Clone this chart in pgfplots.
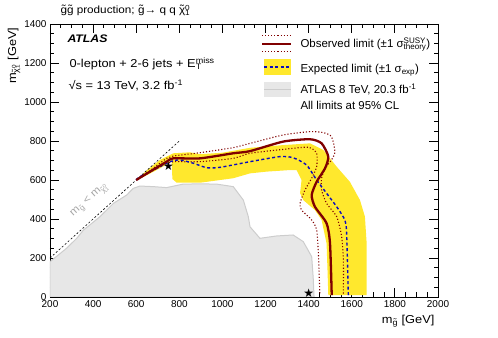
\documentclass[border=0pt]{standalone}
\usepackage{fontspec}
\setmainfont{Liberation Sans}
\newfontfamily\wide{Liberation Sans}[FakeStretch=1.12]
\newfontfamily\dejavu{DejaVu Sans}
\usepackage{pgfplots}
\pgfplotsset{compat=1.18}

\definecolor{obsred}{RGB}{128,0,0}
\definecolor{expyellow}{RGB}{255,232,45}
\definecolor{expblue}{RGB}{10,10,190}
\definecolor{oldfill}{RGB}{231,231,231}
\definecolor{oldline}{RGB}{205,205,205}

% superscript stacked on subscript
\newcommand\supsub[2]{%
  \setbox0\hbox{\textsuperscript{#1}}\setbox2\hbox{\textsubscript{#2}}%
  \ifdim\wd0>\wd2 \rlap{\box2}\box0\relax\else\rlap{\box0}\box2\relax\fi}
% tilde over a letter
\newcommand\tl[1]{\setbox4\hbox{#1}\rlap{\hbox to\wd4{\hss\raisebox{0.12em}{˜}\hss}}\box4\relax}
\newcommand\chiz{\tl{χ}\supsub{0}{1}}

\begin{document}
\begin{tikzpicture}
\begin{axis}[
  scale only axis, width=388bp, height=273bp,
  at={(0,0)}, anchor=south west,
  xmin=200, xmax=2000, ymin=0, ymax=1400,
  xtick distance=200, ytick distance=200,
  minor x tick num=3, minor y tick num=3,
  tick align=inside,
  major tick length=9bp, minor tick length=4.5bp,
  axis line style={line width=0.9bp},
  every tick/.style={black, line width=0.8bp},
  tick label style={font=\fontsize{10}{12}\selectfont},
  /pgf/number format/assume math mode=true,
  /pgf/number format/1000 sep={},
]
% ATLAS 8 TeV excluded region
\addplot[fill=oldfill, draw=oldline, line width=1bp] coordinates {
  (200,0) (200,181) (277,250) (324,301) (355,343) (432,412) (494,480)
  (556,523) (586,557) (617,569) (680,566) (741,561) (818,579) (900,580)
  (973,579) (1050,566) (1097,497) (1120,412) (1128,360) (1174,301)
  (1251,313) (1328,318) (1375,284) (1414,207) (1421,100) (1425,0)} -- cycle;

% expected +-1 sigma band
\addplot[fill=expyellow, draw=none] coordinates {
  (600,600) (650,650) (710,703) (772,737) (849,742) (896,732) (1000,740)
  (1128,765) (1282,779) (1406,788) (1468,754) (1530,668) (1591,591)
  (1638,497) (1661,412) (1669,275) (1669,10) (1491,10) (1487,150)
  (1483,275) (1460,395) (1429,446) (1375,497) (1360,532) (1367,600)
  (1344,651) (1313,651) (1205,643) (1128,634) (1050,609) (896,586)
  (788,586) (768,605) (764,694) (710,660) (650,625)} -- cycle;

% kinematic limit
\addplot[black, line width=0.6bp, dash pattern=on 2bp off 2bp] coordinates {(200,200) (800,800)};

% observed +-1 sigma theory
\addplot[obsred, line width=1.1bp, dotted, smooth, tension=0.4] coordinates {
  (600,600) (664,648) (741,711) (772,723) (896,740) (1050,766) (1128,788)
  (1282,831) (1406,848) (1468,843) (1506,822) (1522,745) (1506,703)
  (1476,660) (1460,609) (1460,549) (1483,480) (1530,412) (1553,309)
  (1561,190) (1561,10)};
\addplot[obsred, line width=1.1bp, dotted, smooth, tension=0.4] coordinates {
  (600,600) (664,640) (741,685) (772,694) (896,694) (1050,711) (1128,737)
  (1282,757) (1398,768) (1437,737) (1437,668) (1414,609) (1383,549)
  (1360,480) (1367,446) (1414,395) (1437,344) (1445,224) (1452,10)};

% expected limit
\addplot[expblue, line width=1.4bp, dash pattern=on 3bp off 2.5bp, smooth, tension=0.4] coordinates {
  (600,600) (617,617) (695,660) (757,694) (803,703) (865,686) (927,663)
  (989,665) (1128,694) (1267,720) (1328,714) (1390,677) (1437,600)
  (1483,532) (1530,463) (1568,395) (1576,327) (1584,10)};

% observed limit
\addplot[obsred, line width=2.3bp, smooth, tension=0.4] coordinates {
  (600,600) (664,643) (741,694) (772,711) (896,711) (1050,737) (1128,748)
  (1282,797) (1406,809) (1460,788) (1491,720) (1476,660) (1437,591)
  (1414,523) (1429,463) (1483,378) (1499,275) (1507,10)};

% benchmark points
\addplot[only marks, black, mark=text, text mark={\dejavu\fontsize{12}{12}\selectfont ★}]
  coordinates {(750,672) (1400,22)};

\node[gray!70, rotate=42, font=\wide\fontsize{10.5}{12}\selectfont] at (axis cs:385,495)
  {m\textsubscript{\tl{g}} < m\textsubscript{\chiz}};
\end{axis}

% titles and labels
\node[anchor=base west, font=\wide\fontsize{10.5}{12}\selectfont] at (7bp,283bp)
  {\tl{g}\tl{g} production; \tl{g}→ q q \chiz};
\node[anchor=base west, font=\wide\bfseries\itshape\fontsize{11}{13}\selectfont] at (14bp,254bp) {ATLAS};
\node[anchor=base west, font=\wide\fontsize{11.5}{13}\selectfont] at (16bp,229bp)
  {0-lepton + 2-6 jets + E\supsub{miss}{T}};
\node[anchor=base west, font=\wide\fontsize{11.5}{13}\selectfont] at (15bp,207bp)
  {√s = 13 TeV, 3.2 fb\textsuperscript{-1}};
\node[anchor=base east, rotate=90, font=\wide\fontsize{11.5}{13}\selectfont] at (-34bp,273bp)
  {m\textsubscript{\chiz} [GeV]};
\node[anchor=base east, font=\wide\fontsize{11.5}{13}\selectfont] at (388bp,-26bp)
  {m\textsubscript{\tl{g}} [GeV]};

% legend
\draw[obsred, line width=1.1bp, dotted] (212bp,261.3bp) -- (241bp,261.3bp);
\draw[obsred, line width=2.3bp] (212bp,252.7bp) -- (241bp,252.7bp);
\draw[obsred, line width=1.1bp, dotted] (212bp,245.3bp) -- (241bp,245.3bp);
\node[anchor=base west, font=\fontsize{11.5}{13}\selectfont] at (247bp,249bp)
  {Observed limit (±1 σ\supsub{SUSY}{theory})};
\fill[expyellow] (214bp,222bp) rectangle (241bp,238bp);
\draw[expblue, line width=1.4bp, dash pattern=on 3bp off 2.5bp] (214bp,230bp) -- (241bp,230bp);
\node[anchor=base west, font=\fontsize{11.5}{13}\selectfont] at (247bp,224bp)
  {Expected limit (±1 σ\textsubscript{exp})};
\fill[oldfill] (214bp,200bp) rectangle (241bp,215bp);
\draw[oldline, line width=1bp] (214bp,207.5bp) -- (241bp,207.5bp);
\node[anchor=base west, font=\fontsize{11.5}{13}\selectfont] at (247bp,203bp)
  {ATLAS 8 TeV, 20.3 fb\textsuperscript{-1}};
\node[anchor=base west, font=\fontsize{11.5}{13}\selectfont] at (247bp,187bp)
  {All limits at 95\% CL};

\useasboundingbox (-50bp,-41bp) rectangle (448bp,297bp);
\end{tikzpicture}
\end{document}
